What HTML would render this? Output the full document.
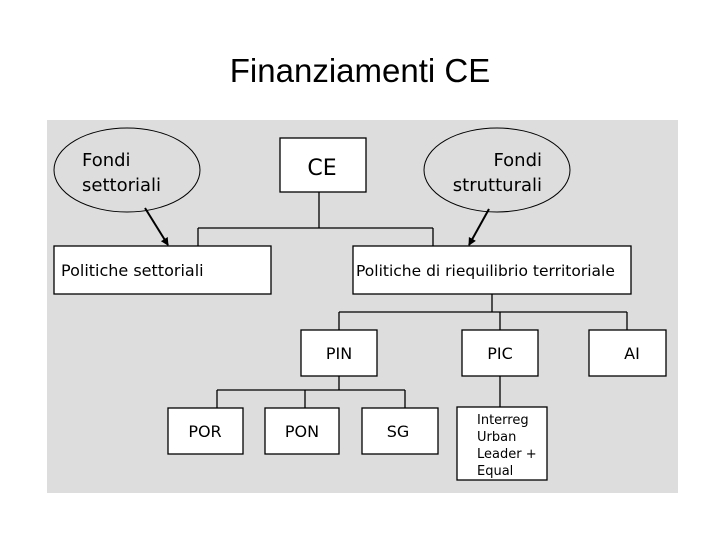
<!DOCTYPE html>
<html><head><meta charset="utf-8"><style>
html,body{margin:0;padding:0;background:#fff;}
svg{display:block;}
text{font-family:"DejaVu Sans","Liberation Sans",sans-serif;fill:#000;}
</style></head><body>
<svg width="720" height="540" viewBox="0 0 720 540" xmlns="http://www.w3.org/2000/svg">
<defs><marker id="ah" markerWidth="8" markerHeight="8" refX="7" refY="4" orient="auto" markerUnits="userSpaceOnUse"><path d="M0,0 L8,4 L0,8 z" fill="#000"/></marker></defs>
<text x="360" y="82" font-size="33" text-anchor="middle" style="font-family:'Liberation Sans',sans-serif">Finanziamenti CE</text>
<rect x="47" y="120" width="631" height="373" fill="#dddddd"/>
<g fill="#fff" stroke="#000" stroke-width="1.3">
<ellipse cx="127" cy="170" rx="73" ry="42" fill="#dddddd" stroke-width="1"/>
<ellipse cx="497" cy="170" rx="73" ry="42" fill="#dddddd" stroke-width="1"/>
<rect x="280" y="138" width="86" height="54"/>
<rect x="54" y="246" width="217" height="48"/>
<rect x="353" y="246" width="278" height="48"/>
<rect x="301" y="330" width="76" height="46"/>
<rect x="462" y="330" width="76" height="46"/>
<rect x="589" y="330" width="77" height="46"/>
<rect x="168" y="408" width="75" height="46"/>
<rect x="265" y="408" width="74" height="46"/>
<rect x="362" y="408" width="76" height="46"/>
<rect x="457" y="407" width="90" height="73"/>
</g>
<g stroke="#000" stroke-width="1.3" fill="none">
<path d="M319 192 V228 M198 228 H433 M198 228 V246 M433 228 V246"/>
<path d="M492 294 V312 M339 312 H627 M339 312 V330 M500 312 V330 M627 312 V330"/>
<path d="M339 376 V390 M217 390 H405 M217 390 V408 M305 390 V408 M405 390 V408"/>
<path d="M500 376 V407"/>
<line x1="145" y1="208" x2="168" y2="245" stroke-width="2" marker-end="url(#ah)"/>
<line x1="489" y1="209" x2="469" y2="245" stroke-width="2" marker-end="url(#ah)"/>
</g>
<g font-size="18">
<text x="82" y="166">Fondi</text>
<text x="82" y="191">settoriali</text>
<text x="542" y="166" text-anchor="end">Fondi</text>
<text x="542" y="191" text-anchor="end">strutturali</text>
<text x="322" y="175" font-size="22" text-anchor="middle">CE</text>
<text x="61" y="276" font-size="16">Politiche settoriali</text>
<text x="356" y="276" font-size="15.5">Politiche di riequilibrio territoriale</text>
<text x="339" y="359" font-size="16" text-anchor="middle">PIN</text>
<text x="500" y="359" font-size="16" text-anchor="middle">PIC</text>
<text x="632" y="359" font-size="16" text-anchor="middle">AI</text>
<text x="205" y="437" font-size="16" text-anchor="middle">POR</text>
<text x="302" y="437" font-size="16" text-anchor="middle">PON</text>
<text x="398" y="437" font-size="16" text-anchor="middle">SG</text>
</g>
<g font-size="13">
<text x="477" y="424">Interreg</text>
<text x="477" y="441">Urban</text>
<text x="477" y="458">Leader +</text>
<text x="477" y="475">Equal</text>
</g>
</svg>
</body></html>
